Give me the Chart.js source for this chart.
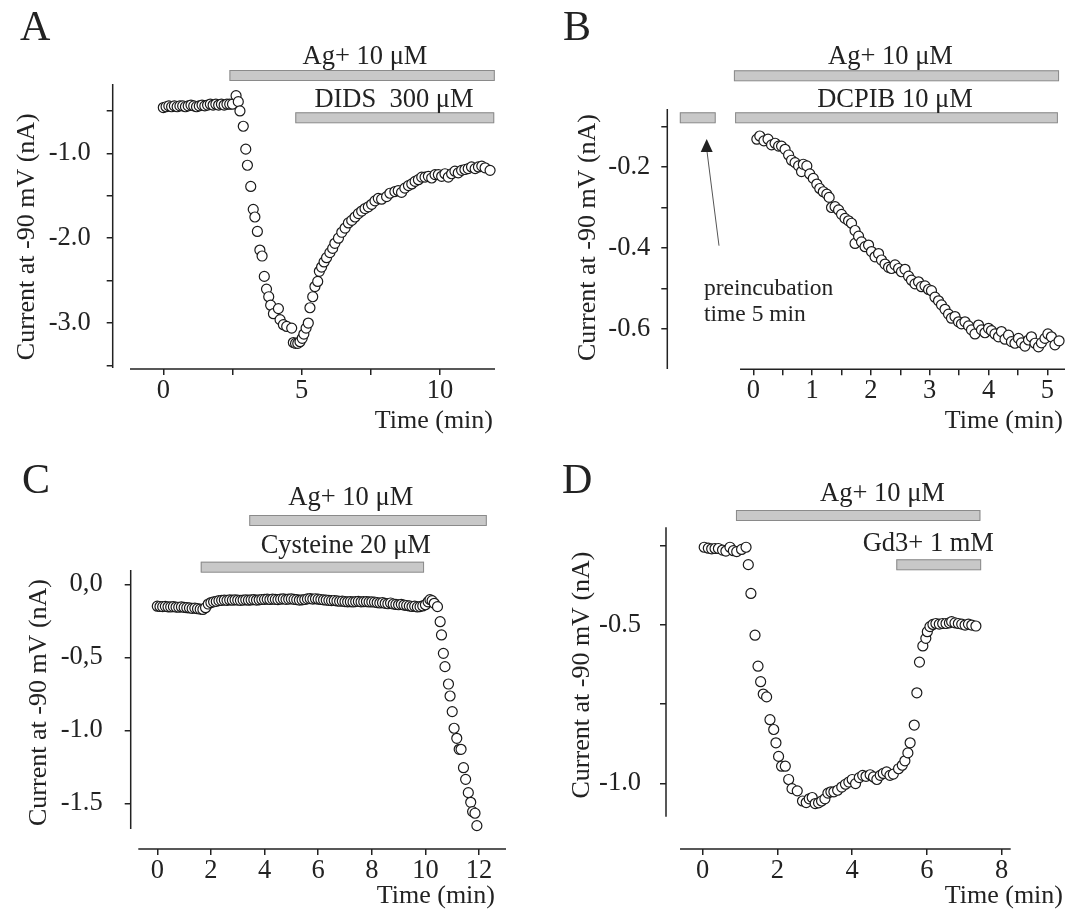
<!DOCTYPE html>
<html>
<head>
<meta charset="utf-8">
<script src="https://cdn.jsdelivr.net/npm/chart.js@4.4.0/dist/chart.umd.min.js"></script>
<style>
  html, body { margin: 0; padding: 0; background: #fff; }
  #wrap { position: relative; width: 1077px; height: 911px; }
  canvas { position: absolute; }
</style>
</head>
<body>
<div id="wrap">
  <canvas id="chartA" width="538" height="455" style="left:0;top:0"></canvas>
  <canvas id="chartB" width="539" height="455" style="left:538px;top:0"></canvas>
  <canvas id="chartC" width="538" height="456" style="left:0;top:455px"></canvas>
  <canvas id="chartD" width="539" height="456" style="left:538px;top:455px"></canvas>
</div>
<script>
// ---- data ----
// A: Ag+ then DIDS
const aTime = [0, 0.1, 0.2, 0.3, 0.4, 0.5, 0.6, 0.7, 0.8, 0.9, 1.0, 1.1, 1.2, 1.3, 1.4, 1.5, 1.6, 1.7, 1.8, 1.9, 2.0, 2.1, 2.2, 2.3, 2.4, 2.5,
  2.63, 2.71, 2.77, 2.89, 2.98, 3.04, 3.16, 3.25, 3.31, 3.40, 3.49, 3.57, 3.65, 3.73, 3.81, 3.88, 3.98, 4.16, 4.22, 4.34,
  4.46, 4.64, 4.70, 4.78, 4.86, 4.94, 5.02, 5.08, 5.16, 5.24, 5.30, 5.40, 5.48, 5.58, 5.64, 5.72, 5.81, 5.90, 6.02, 6.12,
  6.20, 6.33, 6.45, 6.57, 6.69, 6.81, 6.93, 7.05, 7.17, 7.29, 7.41, 7.53, 7.65, 7.77, 7.89, 8.07, 8.19, 8.37, 8.49, 8.61,
  8.73, 8.86, 8.98, 9.10, 9.22, 9.34, 9.46, 9.58, 9.70, 9.82, 9.94, 10.06, 10.18, 10.30, 10.42, 10.54, 10.66, 10.78, 10.90, 11.02,
  11.14, 11.27, 11.39, 11.51, 11.63, 11.81];
const aCurrent = [-0.46, -0.45, -0.44, -0.45, -0.44, -0.45, -0.44, -0.44, -0.45, -0.44, -0.43, -0.44, -0.45, -0.44, -0.43, -0.44, -0.43, -0.42, -0.43, -0.42, -0.43, -0.42, -0.43, -0.42, -0.42, -0.42,
  -0.32, -0.39, -0.50, -0.68, -0.95, -1.14, -1.39, -1.66, -1.75, -1.92, -2.14, -2.21, -2.45, -2.60, -2.69, -2.79, -2.89, -2.83, -2.96, -3.02,
  -3.04, -3.06, -3.23, -3.24, -3.24, -3.22, -3.18, -3.13, -3.06, -3.00, -2.82, -2.69, -2.57, -2.51, -2.39, -2.34, -2.28, -2.23, -2.17, -2.12,
  -2.06, -2.00, -1.93, -1.88, -1.82, -1.79, -1.75, -1.71, -1.68, -1.65, -1.63, -1.60, -1.56, -1.53, -1.54, -1.51, -1.47, -1.45, -1.44, -1.46,
  -1.41, -1.38, -1.36, -1.33, -1.31, -1.28, -1.28, -1.27, -1.29, -1.25, -1.25, -1.27, -1.24, -1.28, -1.24, -1.21, -1.23, -1.20, -1.19, -1.18,
  -1.16, -1.18, -1.16, -1.15, -1.17, -1.20];
const aBars = [[2.39, 11.98], [4.77, 11.96]];
const aBarLabels = ['Ag+ 10 \u03bcM', 'DIDS  300 \u03bcM'];
const aXTicks = [0, 2.5, 5, 7.5, 10];
const aXLabels = ['0', '', '5', '', '10'];
const aYTicks = [-0.5, -1, -1.5, -2, -2.5, -3, -3.5];
const aYLabels = ['', '-1.0', '', '-2.0', '', '-3.0', ''];

// B: DCPIB preincubation, then Ag+
const bTime = [0.06, 0.11, 0.18, 0.25, 0.31, 0.37, 0.43, 0.48, 0.54, 0.60, 0.65, 0.71, 0.77, 0.82, 0.85, 0.91, 0.96, 1.02, 1.08,
  1.13, 1.19, 1.25, 1.29, 1.33, 1.39, 1.45, 1.50, 1.56, 1.62, 1.67, 1.73, 1.73, 1.79, 1.84, 1.90, 1.96, 2.01, 2.07, 2.13,
  2.18, 2.24, 2.30, 2.35, 2.41, 2.47, 2.52, 2.58, 2.64, 2.69, 2.75, 2.81, 2.86, 2.92, 2.98, 3.03, 3.09, 3.15, 3.20, 3.26,
  3.32, 3.37, 3.43, 3.49, 3.54, 3.60, 3.66, 3.71, 3.77, 3.83, 3.88, 3.94, 4.00, 4.05, 4.11, 4.17, 4.22, 4.28, 4.34, 4.39,
  4.45, 4.51, 4.56, 4.62, 4.68, 4.73, 4.79, 4.85, 4.90, 4.96, 5.01, 5.07, 5.13, 5.20];
const bCurrent = [-0.131, -0.123, -0.135, -0.131, -0.145, -0.141, -0.148, -0.148, -0.156, -0.170, -0.183, -0.189, -0.197, -0.211, -0.193, -0.197, -0.217, -0.228, -0.242,
  -0.253, -0.261, -0.267, -0.275, -0.300, -0.298, -0.306, -0.317, -0.327, -0.333, -0.339, -0.357, -0.389, -0.371, -0.385, -0.397, -0.393, -0.409, -0.422, -0.414,
  -0.430, -0.440, -0.448, -0.451, -0.442, -0.451, -0.459, -0.453, -0.470, -0.480, -0.489, -0.484, -0.496, -0.494, -0.503, -0.506, -0.522, -0.531, -0.541, -0.552,
  -0.564, -0.574, -0.570, -0.583, -0.588, -0.583, -0.593, -0.603, -0.613, -0.591, -0.603, -0.610, -0.599, -0.605, -0.613, -0.620, -0.607, -0.626, -0.616, -0.632,
  -0.636, -0.624, -0.635, -0.643, -0.628, -0.620, -0.636, -0.645, -0.635, -0.624, -0.613, -0.620, -0.640, -0.630];
const bBars = [[-1.25, -0.64], [-0.33, 5.2], [-0.31, 5.18]];
const bBarLabels = ['', 'Ag+ 10 \u03bcM', 'DCPIB 10 \u03bcM'];
const bXTicks = [0, 0.5, 1, 1.5, 2, 2.5, 3, 3.5, 4, 4.5, 5];
const bXLabels = ['0', '', '1', '', '2', '', '3', '', '4', '', '5'];
const bYTicks = [-0.1, -0.2, -0.3, -0.4, -0.5, -0.6];
const bYLabels = ['', '-0.2', '', '-0.4', '', '-0.6'];

// C: Cysteine, then Ag+
const cTime = [0, 0.1, 0.2, 0.3, 0.4, 0.5, 0.6, 0.7, 0.8, 0.9, 1.0, 1.1, 1.2, 1.3, 1.4, 1.5, 1.6, 1.7, 1.8, 1.9, 2.0,
  2.1, 2.2, 2.3, 2.4, 2.5, 2.6, 2.7, 2.8, 2.9, 3.0, 3.1, 3.2, 3.3, 3.4, 3.5, 3.6, 3.7, 3.8, 3.9, 4.0,
  4.1, 4.2, 4.3, 4.4, 4.5, 4.6, 4.7, 4.8, 4.9, 5.0, 5.1, 5.2, 5.3, 5.4, 5.5, 5.6, 5.7, 5.8, 5.9, 6.0,
  6.1, 6.2, 6.3, 6.4, 6.5, 6.6, 6.7, 6.8, 6.9, 7.0, 7.1, 7.2, 7.3, 7.4, 7.5, 7.6, 7.7, 7.8, 7.9, 8.0,
  8.1, 8.2, 8.3, 8.4, 8.5, 8.6, 8.7, 8.8, 8.9, 9.0, 9.1, 9.2, 9.3, 9.4, 9.5, 9.6, 9.7, 9.8, 9.9, 10.0,
  10.1, 10.17, 10.25, 10.33, 10.45, 10.55, 10.6, 10.67, 10.73, 10.86, 10.92, 11.0, 11.07, 11.17, 11.26, 11.33, 11.42, 11.5, 11.6, 11.69, 11.76, 11.85, 11.92];
const cCurrent = [-0.15, -0.152, -0.153, -0.151, -0.154, -0.155, -0.153, -0.156, -0.157, -0.155, -0.158, -0.16, -0.162, -0.165, -0.163, -0.167,
  -0.17, -0.172, -0.16, -0.135, -0.125,
  -0.12, -0.117, -0.112, -0.11, -0.108, -0.11, -0.107, -0.109, -0.106, -0.108,
  -0.11, -0.108, -0.106, -0.109, -0.107, -0.105, -0.108, -0.106, -0.104, -0.103,
  -0.102, -0.104, -0.101, -0.103, -0.105, -0.102, -0.1, -0.103, -0.101, -0.1,
  -0.103, -0.105, -0.108, -0.106, -0.104, -0.1, -0.098, -0.101, -0.099, -0.102,
  -0.104, -0.106, -0.108, -0.11, -0.112, -0.111, -0.114, -0.116, -0.115, -0.118,
  -0.12, -0.119, -0.121, -0.118, -0.117, -0.12, -0.119, -0.118, -0.121, -0.12,
  -0.122, -0.125, -0.128, -0.126, -0.13, -0.133, -0.128, -0.135, -0.138, -0.14,
  -0.137, -0.142, -0.145, -0.148, -0.152, -0.15, -0.155, -0.153, -0.148, -0.14,
  -0.12, -0.105, -0.112, -0.13, -0.153, -0.256, -0.347, -0.473, -0.564, -0.683, -0.765, -0.872, -0.986, -1.055, -1.13, -1.13, -1.256, -1.336, -1.427, -1.493, -1.557, -1.568, -1.653];
const cBars = [[3.43, 12.29], [1.62, 9.95]];
const cBarLabels = ['Ag+ 10 \u03bcM', 'Cysteine 20 \u03bcM'];
const cXTicks = [0, 2, 4, 6, 8, 10, 12];
const cXLabels = ['0', '2', '4', '6', '8', '10', '12'];
const cYTicks = [0, -0.5, -1, -1.5];
const cYLabels = ['0,0', '-0,5', '-1.0', '-1.5'];

// D: Ag+, then Gd3+
const dTime = [0.04, 0.15, 0.24, 0.33, 0.42, 0.53, 0.62, 0.73, 0.82, 0.91, 1.04, 1.16, 1.22, 1.29, 1.40, 1.48, 1.55, 1.62, 1.71, 1.80,
  1.90, 1.96, 2.03, 2.11, 2.21, 2.30, 2.39, 2.53, 2.67, 2.77, 2.85, 2.93, 3.01, 3.10, 3.18, 3.27, 3.35, 3.43, 3.51, 3.61,
  3.72, 3.82, 3.91, 4.00, 4.09, 4.19, 4.28, 4.37, 4.48, 4.57, 4.66, 4.75, 4.83, 4.92, 5.01, 5.10, 5.24, 5.34, 5.41, 5.49,
  5.55, 5.66, 5.73, 5.80, 5.89, 5.97, 6.01, 6.08, 6.16, 6.24, 6.33, 6.42, 6.51, 6.60, 6.66, 6.75, 6.84, 6.93, 7.02, 7.11, 7.20, 7.31];
const dCurrent = [-0.254, -0.257, -0.259, -0.258, -0.258, -0.263, -0.266, -0.254, -0.265, -0.268, -0.261, -0.254, -0.309, -0.400, -0.532, -0.630, -0.679, -0.718, -0.727, -0.799,
  -0.830, -0.872, -0.915, -0.946, -0.946, -0.988, -1.017, -1.024, -1.056, -1.061, -1.049, -1.045, -1.064, -1.062, -1.056, -1.049, -1.031, -1.027, -1.027, -1.022,
  -1.012, -1.003, -0.996, -0.988, -1.001, -0.982, -0.975, -0.978, -0.973, -0.980, -0.988, -0.975, -0.969, -0.964, -0.975, -0.971, -0.954, -0.943, -0.929, -0.904,
  -0.872, -0.816, -0.714, -0.617, -0.566, -0.542, -0.521, -0.505, -0.498, -0.495, -0.497, -0.495, -0.495, -0.493, -0.489, -0.493, -0.495, -0.497, -0.500, -0.497, -0.500, -0.503];
const dBars = [[0.89, 7.43], [5.18, 7.45]];
const dBarLabels = ['Ag+ 10 \u03bcM', 'Gd3+ 1 mM'];
const dXTicks = [0, 2, 4, 6, 8];
const dXLabels = ['0', '2', '4', '6', '8'];
const dYTicks = [-0.25, -0.5, -0.75, -1];
const dYLabels = ['', '-0.5', '', '-1.0'];

// ---- drawing ----
const INK = '#222';
const FONT = "'Liberation Serif', 'Times New Roman', serif";
Chart.defaults.font.family = FONT;
Chart.defaults.color = INK;

// axis lines, treatment bars and the free text of each panel
const decor = {
  id: 'decor',
  beforeDatasetsDraw(chart, args, o) {
    const { ctx, chartArea, scales: { x, y } } = chart;
    ctx.save();
    ctx.strokeStyle = INK;
    ctx.lineWidth = 1.5;
    ctx.beginPath();
    ctx.moveTo(chartArea.left, chartArea.top);
    ctx.lineTo(chartArea.left, y.getPixelForValue(o.yEnd));
    ctx.moveTo(x.getPixelForValue(o.xStart), chartArea.bottom);
    ctx.lineTo(chartArea.right, chartArea.bottom);
    ctx.stroke();
    ctx.restore();
  },
  afterDraw(chart, args, o) {
    const { ctx, scales: { x } } = chart;
    ctx.save();
    o.bars.forEach(b => {
      const x0 = x.getPixelForValue(b.range[0]);
      const x1 = x.getPixelForValue(b.range[1]);
      ctx.fillStyle = '#c8c8c8';
      ctx.fillRect(x0, b.top, x1 - x0, 10.5);
      ctx.strokeStyle = '#8a8a8a';
      ctx.lineWidth = 1;
      ctx.strokeRect(x0 + 0.5, b.top + 0.5, x1 - x0 - 1, 10);
    });
    ctx.fillStyle = INK;
    ctx.textBaseline = 'alphabetic';
    o.texts.forEach(t => {
      ctx.font = t.size + 'px ' + FONT;
      ctx.textAlign = t.align || 'center';
      ctx.fillText(t.text, t.x, t.y);
    });
    // y title, rotated
    ctx.save();
    ctx.translate(o.yTitle[0], o.yTitle[1]);
    ctx.rotate(-Math.PI / 2);
    ctx.font = '26px ' + FONT;
    ctx.textAlign = 'center';
    ctx.textBaseline = 'middle';
    ctx.fillText('Current at -90 mV (nA)', 0, 0);
    ctx.restore();
    if (o.arrow) {
      const [tx, ty, hx, hy] = o.arrow;
      ctx.strokeStyle = '#555';
      ctx.lineWidth = 1;
      ctx.beginPath();
      ctx.moveTo(tx, ty);
      ctx.lineTo(hx, hy + 10);
      ctx.stroke();
      ctx.fillStyle = INK;
      ctx.beginPath();
      ctx.moveTo(hx, hy);
      ctx.lineTo(hx - 6, hy + 13);
      ctx.lineTo(hx + 6, hy + 13);
      ctx.closePath();
      ctx.fill();
    }
    ctx.restore();
  }
};

function makePanel(id, p) {
  const tickFont = { family: FONT, size: 26.5 };
  new Chart(document.getElementById(id), {
    type: 'scatter',
    data: {
      datasets: [{
        data: p.time.map((t, i) => ({ x: t, y: p.current[i] })),
        pointRadius: 5,
        pointHoverRadius: 5,
        pointBorderWidth: 1.2,
        pointBorderColor: '#1a1a1a',
        pointBackgroundColor: '#fff',
        clip: false
      }]
    },
    options: {
      responsive: false,
      animation: false,
      events: [],
      layout: { padding: { left: 0, bottom: 0, top: p.top, right: p.right } },
      scales: {
        x: {
          type: 'linear', min: p.xRange[0], max: p.xRange[1],
          afterBuildTicks: s => { s.ticks = p.xTicks.map(v => ({ value: v })); },
          afterFit: s => { s.height = p.xHeight; },
          ticks: {
            autoSkip: false, maxRotation: 0, padding: 0, font: tickFont, color: INK,
            callback: v => p.xLabels[p.xTicks.indexOf(v)] || ''
          },
          grid: { drawOnChartArea: false, drawTicks: true, tickLength: 6, color: INK, lineWidth: 1.5 },
          border: { display: false }
        },
        y: {
          type: 'linear', min: p.yRange[0], max: p.yRange[1],
          afterBuildTicks: s => { s.ticks = p.yTicks.map(v => ({ value: v })); },
          afterFit: s => { s.width = p.yWidth; },
          ticks: {
            autoSkip: false, padding: p.yPad, font: tickFont, color: INK,
            callback: v => p.yLabels[p.yTicks.indexOf(v)] || ''
          },
          grid: { drawOnChartArea: false, drawTicks: true, tickLength: 6, color: INK, lineWidth: 1.5 },
          border: { display: false }
        }
      },
      plugins: {
        legend: { display: false },
        tooltip: { enabled: false },
        decor: p.decor
      }
    },
    plugins: [decor]
  });
}

makePanel('chartA', {
  time: aTime, current: aCurrent,
  xTicks: aXTicks, xLabels: aXLabels, yTicks: aYTicks, yLabels: aYLabels,
  xRange: [-1.829, 11.988], yRange: [-3.542, -0.182],
  top: 84, right: 43, yWidth: 112.7, xHeight: 86, yPad: 16,
  decor: {
    xStart: -1.204, yEnd: -3.53,
    bars: [{ range: aBars[0], top: 70 }, { range: aBars[1], top: 112.3 }],
    yTitle: [27, 236.7],
    texts: [
      { text: 'A', x: 20, y: 40, size: 42, align: 'left' },
      { text: aBarLabels[0], x: 365, y: 64, size: 26.5 },
      { text: aBarLabels[1], x: 394, y: 106.5, size: 26.5 },
      { text: 'Time (min)', x: 493, y: 428, size: 26, align: 'right' }
    ]
  }
});

makePanel('chartB', {
  time: bTime, current: bCurrent,
  xTicks: bXTicks, xLabels: bXLabels, yTicks: bYTicks, yLabels: bYLabels,
  xRange: [-1.463, 5.301], yRange: [-0.7005, -0.0562],
  top: 109, right: 12, yWidth: 129.3, xHeight: 85.7, yPad: 11,
  decor: {
    xStart: -0.226, yEnd: -0.70,
    bars: [{ range: bBars[0], top: 112.3 }, { range: bBars[1], top: 70.3 }, { range: bBars[2], top: 112.3 }],
    yTitle: [50, 237.5],
    arrow: [181, 245.7, 168.7, 139],
    texts: [
      { text: 'B', x: 25, y: 40, size: 42, align: 'left' },
      { text: bBarLabels[1], x: 352.5, y: 64, size: 26.5 },
      { text: bBarLabels[2], x: 357, y: 106.5, size: 26.5 },
      { text: 'preincubation', x: 166, y: 295, size: 23.5, align: 'left' },
      { text: 'time 5 min', x: 166, y: 321, size: 23.5, align: 'left' },
      { text: 'Time (min)', x: 525, y: 428, size: 26, align: 'right' }
    ]
  }
});

makePanel('chartC', {
  time: cTime, current: cCurrent,
  xTicks: cXTicks, xLabels: cXLabels, yTicks: cYTicks, yLabels: cYLabels,
  xRange: [-0.992, 13.006], yRange: [-1.813, 0.098],
  top: 115, right: 32, yWidth: 130.7, xHeight: 62, yPad: 22,
  decor: {
    xStart: -0.709, yEnd: -1.676,
    bars: [{ range: cBars[0], top: 60 }, { range: cBars[1], top: 106.7 }],
    yTitle: [39, 247.5],
    texts: [
      { text: 'C', x: 22, y: 38, size: 42, align: 'left' },
      { text: cBarLabels[0], x: 350.8, y: 50, size: 26.5 },
      { text: cBarLabels[1], x: 345.8, y: 97.7, size: 26.5 },
      { text: 'Time (min)', x: 495, y: 448, size: 26, align: 'right' }
    ]
  }
});

makePanel('chartD', {
  time: dTime, current: dCurrent,
  xTicks: dXTicks, xLabels: dXLabels, yTicks: dYTicks, yLabels: dYLabels,
  xRange: [-0.982, 8.241], yRange: [-1.2077, -0.191],
  top: 72.3, right: 66.3, yWidth: 128, xHeight: 62, yPad: 19,
  decor: {
    xStart: -0.607, yEnd: -1.1056,
    bars: [{ range: dBars[0], top: 55 }, { range: dBars[1], top: 104.3 }],
    yTitle: [44, 220],
    texts: [
      { text: 'D', x: 24, y: 38, size: 42, align: 'left' },
      { text: dBarLabels[0], x: 344.5, y: 45.7, size: 26.5 },
      { text: dBarLabels[1], x: 390.3, y: 96, size: 26.5 },
      { text: 'Time (min)', x: 525, y: 448, size: 26, align: 'right' }
    ]
  }
});
</script>
</body>
</html>
